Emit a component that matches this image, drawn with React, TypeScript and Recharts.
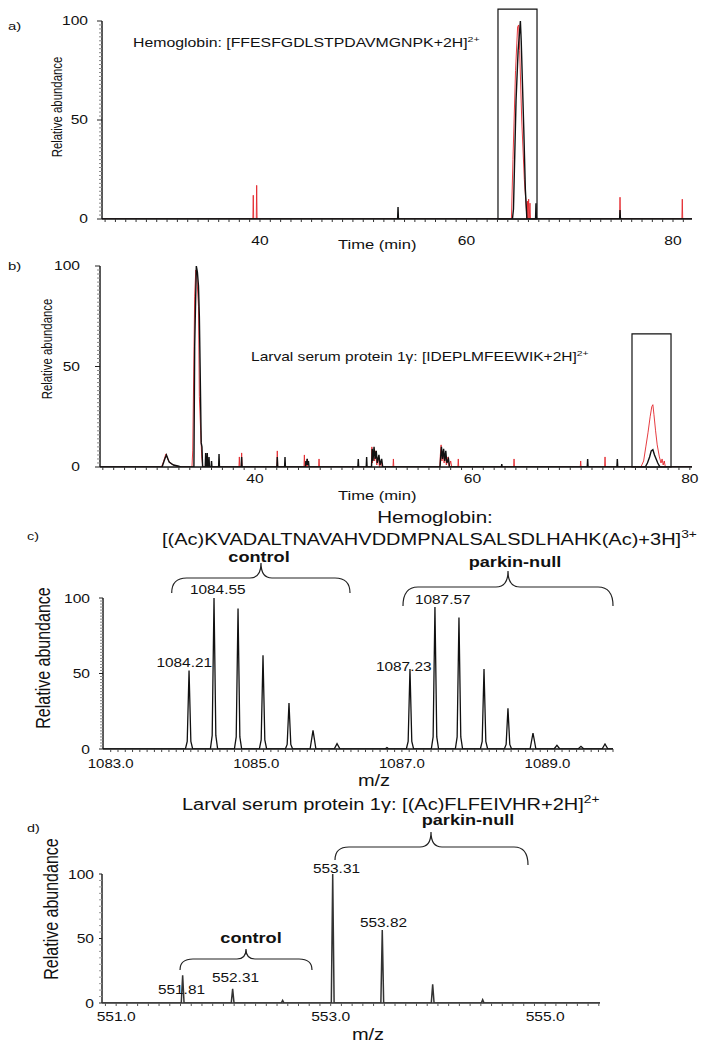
import React from 'react';
import { LineChart, Line, XAxis, YAxis, ReferenceArea } from 'recharts';

const FONT = '"Liberation Sans", Arial, Helvetica, sans-serif';

type Pt = [number, number];

// ---------------- Panel a: Hemoglobin XIC (time, relative abundance) ----------------
const aXDomain: [number, number] = [24.7, 81.84];
const aXLabels = [40, 60, 80];
const aYLabels = [0, 50, 100];
const aBox = { x1: 63.05, x2: 66.83, top: 106 };
const aRed: Pt[] = [
  [24.7, 0], [39.31, 0], [39.35, 12], [39.39, 0], [39.64, 0], [39.68, 17], [39.72, 0],
  [64.35, 0], [64.5, 30], [64.75, 75], [64.95, 97], [65.05, 98], [65.15, 85], [65.35, 50], [65.6, 20],
  [65.8, 5], [65.85, 0], [65.9, 9], [65.95, 0], [66.02, 10], [66.07, 0], [66.15, 8], [66.2, 0],
  [74.83, 0], [74.87, 11], [74.91, 0], [80.86, 0], [80.9, 10], [80.94, 0], [81.84, 0],
];
const aBlack: Pt[] = [
  [24.7, 0], [53.33, 0], [53.37, 6], [53.41, 0],
  [64.45, 0], [64.55, 5], [64.8, 60], [65.0, 85], [65.22, 100], [65.3, 90], [65.4, 72], [65.55, 45],
  [65.7, 15], [65.85, 0], [66.69, 0], [66.73, 8], [66.77, 0], [74.83, 0], [74.87, 4.5], [74.91, 0], [81.84, 0],
];

// ---------------- Panel b: Larval serum protein XIC ----------------
const bXDomain: [number, number] = [25.74, 80.2];
const bXLabels = [40, 60, 80];
const bYLabels = [0, 50, 100];
const bBox = { x1: 74.68, x2: 78.27, top: 66.2 };
const bRed: Pt[] = [
  [25.74, 0], [31.4, 0], [31.6, 3], [31.8, 6.5], [32.0, 3.5], [32.3, 1.5], [32.6, 0.8], [33.0, 0],
  [34.2, 0], [34.27, 8], [34.45, 85], [34.55, 98], [34.65, 95], [34.8, 80], [34.88, 35], [35.0, 18], [35.1, 5], [35.2, 0],
  [38.52, 0], [38.56, 5], [38.6, 0], [38.73, 0], [38.77, 7], [38.81, 0],
  [42.01, 0], [42.05, 8], [42.09, 0],
  [44.5, 0], [44.54, 6], [44.58, 0], [44.65, 0], [44.7, 3], [44.75, 0], [44.8, 4], [44.85, 0],
  [45.85, 0], [45.89, 4], [45.93, 0],
  [50.7, 0], [50.75, 10], [50.8, 2], [50.9, 7], [51.0, 3], [51.1, 8], [51.2, 1], [51.35, 5], [51.45, 0], [51.6, 3], [51.7, 0],
  [52.69, 0], [52.73, 4], [52.77, 0],
  [57.0, 0], [57.05, 6], [57.12, 11], [57.2, 3], [57.3, 8], [57.4, 2], [57.5, 7], [57.6, 1], [57.75, 5], [57.85, 0], [58.0, 3], [58.1, 0],
  [58.66, 0], [58.7, 4], [58.74, 0],
  [63.79, 0], [63.83, 4], [63.87, 0],
  [69.92, 0], [69.96, 3], [70.0, 0],
  [72.16, 0], [72.2, 5], [72.24, 0],
  [75.5, 0], [75.75, 3], [75.95, 10], [76.15, 17], [76.35, 25], [76.5, 30], [76.6, 31], [76.7, 26], [76.85, 18],
  [77.0, 11], [77.2, 5], [77.35, 2], [77.45, 4], [77.55, 1], [77.65, 3], [77.75, 0],
  [80.2, 0],
];
const bBlack: Pt[] = [
  [25.74, 0], [31.45, 0], [31.7, 4], [31.85, 6], [32.1, 2.5], [32.5, 1], [32.9, 0.5], [33.2, 0],
  [34.38, 0], [34.45, 60], [34.6, 100], [34.7, 97], [34.8, 90], [34.88, 75], [34.95, 50], [35.05, 12], [35.12, 10], [35.18, 0],
  [35.42, 0], [35.46, 7], [35.5, 0], [35.57, 0], [35.61, 7], [35.65, 0], [35.73, 0], [35.77, 5], [35.81, 0], [35.96, 0], [36.0, 3], [36.04, 0],
  [36.65, 0], [36.69, 6.5], [36.73, 0],
  [38.73, 0], [38.77, 5], [38.81, 0],
  [42.01, 0], [42.05, 5], [42.09, 0], [42.72, 0], [42.76, 5], [42.8, 0],
  [44.63, 0], [44.68, 3], [44.73, 1], [44.8, 4], [44.87, 1], [44.92, 3], [44.97, 0],
  [49.46, 0], [49.5, 4], [49.54, 0], [50.23, 0], [50.27, 5], [50.31, 0],
  [50.72, 0], [50.78, 9], [50.85, 3], [50.95, 10], [51.05, 4], [51.15, 8], [51.25, 2], [51.4, 6], [51.5, 1], [51.65, 4], [51.75, 0],
  [57.02, 0], [57.08, 5], [57.15, 10], [57.25, 4], [57.35, 9], [57.45, 3], [57.55, 8], [57.65, 2], [57.8, 4], [57.9, 0],
  [62.66, 0], [62.7, 1.5], [62.74, 0],
  [70.56, 0], [70.6, 4], [70.64, 0],
  [73.29, 0], [73.33, 4], [73.37, 0],
  [75.9, 0], [76.1, 2], [76.3, 5], [76.45, 8], [76.6, 8.6], [76.75, 6], [76.9, 4], [77.05, 2], [77.2, 0.5], [77.3, 0],
  [80.2, 0],
];

// ---------------- Panel c: Hemoglobin isotope envelopes (m/z) ----------------
const cXDomain: [number, number] = [1082.894, 1089.9];
const cXLabels = [1083, 1085, 1087, 1089];
const cYLabels = [0, 50, 100];
const cControl: Pt[] = [
  [1082.894, 0],
  [1084.026, 0], [1084.051, 5], [1084.076, 52], [1084.101, 5], [1084.126, 0],
  [1084.369, 0], [1084.394, 9], [1084.419, 100], [1084.444, 9], [1084.469, 0],
  [1084.699, 0], [1084.724, 8], [1084.749, 93], [1084.774, 8], [1084.799, 0],
  [1085.042, 0], [1085.067, 6], [1085.092, 62], [1085.117, 6], [1085.142, 0],
  [1085.399, 0], [1085.424, 3], [1085.449, 30.5], [1085.474, 3], [1085.499, 0],
  [1085.739, 0], [1085.779, 12.3], [1085.819, 0],
  [1086.07, 0], [1086.109, 3.5], [1086.15, 0],
];
const cParkin: Pt[] = [
  [1086.15, 0],
  [1086.77, 0], [1086.795, 1], [1086.82, 0],
  [1087.061, 0], [1087.086, 5], [1087.111, 53], [1087.136, 5], [1087.161, 0],
  [1087.404, 0], [1087.429, 8], [1087.454, 94], [1087.479, 8], [1087.504, 0],
  [1087.734, 0], [1087.759, 8], [1087.784, 87], [1087.809, 8], [1087.834, 0],
  [1088.078, 0], [1088.103, 5], [1088.128, 53], [1088.153, 5], [1088.178, 0],
  [1088.407, 0], [1088.432, 3], [1088.457, 27], [1088.482, 3], [1088.507, 0],
  [1088.761, 0], [1088.801, 10.6], [1088.841, 0],
  [1089.09, 0], [1089.13, 2.4], [1089.17, 0],
  [1089.42, 0], [1089.46, 1.8], [1089.5, 0],
  [1089.75, 0], [1089.79, 3.3], [1089.83, 0],
  [1089.9, 0],
];

// ---------------- Panel d: Larval serum protein isotope envelopes ----------------
const dXDomain: [number, number] = [550.868, 555.511];
const dXLabels = [551, 553, 555];
const dYLabels = [0, 50, 100];
const dSpectrum: Pt[] = [
  [550.868, 0],
  [551.607, 0], [551.62, 21.5], [551.633, 0],
  [552.073, 0], [552.086, 11], [552.099, 0],
  [552.539, 0], [552.552, 2], [552.565, 0],
  [553.006, 0], [553.019, 100], [553.032, 0],
  [553.468, 0], [553.481, 56.5], [553.494, 0],
  [553.938, 0], [553.951, 14.5], [553.964, 0],
  [554.404, 0], [554.417, 2.6], [554.43, 0],
  [555.511, 0],
];

// ---------------- helpers ----------------
const toRows = (pts: Pt[]) => pts.map(([t, v]) => ({ t, v }));
const steps = (start: number, end: number, step: number) => {
  const n = Math.round((end - start) / step);
  const out: number[] = [];
  for (let i = 0; i <= n; i++) out.push(+(start + i * step).toFixed(4));
  return out;
};
const has = (list: number[], v: number) => list.some((l) => Math.abs(l - v) < 1e-6);

type YOpts = { labels: number[]; gap: number; size: number; sx: number; minorLen: number; majorLen: number; minorColor: string; fmt?: (v: number) => string };
const makeYTick = (o: YOpts) => (props: any) => {
  const { x, y, payload } = props;
  const v = payload.value as number;
  const lab = has(o.labels, v);
  const len = lab ? o.majorLen : o.minorLen;
  return (
    <g>
      <line x1={x} x2={x - len} y1={y} y2={y} stroke={lab ? '#222' : o.minorColor} strokeWidth={1} />
      {lab && (
        <text
          transform={`translate(${x - o.gap},${y + o.size * 0.36}) scale(${o.sx},1)`}
          textAnchor="end"
          fontSize={o.size}
          fontFamily={FONT}
          fill="#111"
        >
          {o.fmt ? o.fmt(v) : String(v)}
        </text>
      )}
    </g>
  );
};

type XOpts = { labels: number[]; base: number; size: number; sx: number; len: number; color: string; fmt?: (v: number) => string };
const makeXTick = (o: XOpts) => (props: any) => {
  const { x, y, payload } = props;
  const v = payload.value as number;
  const lab = has(o.labels, v);
  return (
    <g>
      <line x1={x} x2={x} y1={y} y2={y + o.len} stroke={o.color} strokeWidth={1} />
      {lab && (
        <text
          transform={`translate(${x},${y + o.base}) scale(${o.sx},1)`}
          textAnchor="middle"
          fontSize={o.size}
          fontFamily={FONT}
          fill="#111"
        >
          {o.fmt ? o.fmt(v) : String(v)}
        </text>
      )}
    </g>
  );
};

const T = ({ x, y, size, sx = 1.25, anchor = 'start', bold = false, children }: any) => (
  <text
    transform={`translate(${x},${y}) scale(${sx},1)`}
    fontSize={size}
    fontFamily={FONT}
    fontWeight={bold ? 'bold' : 'normal'}
    textAnchor={anchor}
    fill="#111"
  >
    {children}
  </text>
);

const VT = ({ x, y, size, sx = 1.25, children }: any) => (
  <text
    transform={`translate(${x},${y}) scale(${sx},1) rotate(-90)`}
    fontSize={size}
    fontFamily={FONT}
    textAnchor="middle"
    fill="#111"
  >
    {children}
  </text>
);

const brace = (x1: number, x2: number, xm: number, yEndL: number, yEndR: number, yTop: number, yTip: number, r: number, rm: number) =>
  `M ${x1} ${yEndL} Q ${x1} ${yTop} ${x1 + r} ${yTop} L ${xm - rm} ${yTop} Q ${xm} ${yTop} ${xm} ${yTip} ` +
  `Q ${xm} ${yTop} ${xm + rm} ${yTop} L ${x2 - r} ${yTop} Q ${x2} ${yTop} ${x2} ${yEndR}`;

const axisLine = { stroke: '#111', strokeWidth: 1.4 };
const RED = '#e3262b';

const yTicks2 = steps(0, 100, 2);
const yTicks5 = steps(0, 100, 5);

export default function App() {
  return (
    <div style={{ position: 'absolute', left: 0, top: 0, width: 716, height: 1048, background: '#fff' }}>
      {/* Panel a */}
      <div style={{ position: 'absolute', left: 0, top: 0 }}>
        <LineChart width={716} height={260} margin={{ top: 21, right: 24, bottom: 11, left: 62 }}>
          <XAxis
            dataKey="t" type="number" domain={aXDomain} allowDataOverflow
            ticks={steps(25, 81, 1)} interval={0} tickSize={0} tickMargin={0} tickLine={false}
            tick={makeXTick({ labels: aXLabels, base: 25.5, size: 12, sx: 1.3, len: 3, color: '#333' })}
            height={30} axisLine={axisLine}
          />
          <YAxis
            type="number" domain={[0, 100]} allowDataOverflow
            ticks={yTicks2} interval={0} tickSize={0} tickMargin={0} tickLine={false}
            tick={makeYTick({ labels: aYLabels, gap: 14, size: 12, sx: 1.3, minorLen: 3, majorLen: 5, minorColor: '#888' })}
            width={40} axisLine={axisLine}
          />
          <ReferenceArea x1={aBox.x1} x2={aBox.x2} y1={0} y2={aBox.top} fill="none" fillOpacity={0} stroke="#111" strokeWidth={1.2} ifOverflow="visible" />
          <Line data={toRows(aRed)} dataKey="v" type="linear" stroke={RED} strokeWidth={0.9} dot={false} isAnimationActive={false} />
          <Line data={toRows(aBlack)} dataKey="v" type="linear" stroke="#111" strokeWidth={1.4} dot={false} isAnimationActive={false} />
        </LineChart>
      </div>

      {/* Panel b */}
      <div style={{ position: 'absolute', left: 0, top: 250 }}>
        <LineChart width={716} height={260} margin={{ top: 16, right: 24, bottom: 13, left: 60 }}>
          <XAxis
            dataKey="t" type="number" domain={bXDomain} allowDataOverflow
            ticks={steps(26, 80, 1)} interval={0} tickSize={0} tickMargin={0} tickLine={false}
            tick={makeXTick({ labels: bXLabels, base: 16, size: 12, sx: 1.3, len: 3, color: '#333' })}
            height={30} axisLine={axisLine}
          />
          <YAxis
            type="number" domain={[0, 100]} allowDataOverflow
            ticks={yTicks2} interval={0} tickSize={0} tickMargin={0} tickLine={false}
            tick={makeYTick({ labels: bYLabels, gap: 20, size: 12, sx: 1.3, minorLen: 3, majorLen: 5, minorColor: '#888' })}
            width={40} axisLine={axisLine}
          />
          <ReferenceArea x1={bBox.x1} x2={bBox.x2} y1={0} y2={bBox.top} fill="none" fillOpacity={0} stroke="#111" strokeWidth={1.2} ifOverflow="visible" />
          <Line data={toRows(bRed)} dataKey="v" type="linear" stroke={RED} strokeWidth={0.9} dot={false} isAnimationActive={false} />
          <Line data={toRows(bBlack)} dataKey="v" type="linear" stroke="#111" strokeWidth={1.4} dot={false} isAnimationActive={false} />
        </LineChart>
      </div>

      {/* Panel c */}
      <div style={{ position: 'absolute', left: 0, top: 480 }}>
        <LineChart width={716} height={300} margin={{ top: 118, right: 103, bottom: 6, left: 63 }}>
          <XAxis
            dataKey="t" type="number" domain={cXDomain} allowDataOverflow
            ticks={steps(1083, 1089.9, 0.1)} interval={0} tickSize={0} tickMargin={0} tickLine={false}
            tick={makeXTick({ labels: cXLabels, base: 19, size: 12, sx: 1.25, len: 3, color: '#444', fmt: (v) => v.toFixed(1) })}
            height={25} axisLine={axisLine}
          />
          <YAxis
            type="number" domain={[0, 100]} allowDataOverflow
            ticks={yTicks2} interval={0} tickSize={0} tickMargin={0} tickLine={false}
            tick={makeYTick({ labels: cYLabels, gap: 13, size: 12.5, sx: 1.25, minorLen: 3, majorLen: 4, minorColor: '#888' })}
            width={40} axisLine={axisLine}
          />
          <Line data={toRows(cControl)} dataKey="v" type="linear" stroke="#111" strokeWidth={1.3} dot={false} isAnimationActive={false} />
          <Line data={toRows(cParkin)} dataKey="v" type="linear" stroke="#111" strokeWidth={1.3} dot={false} isAnimationActive={false} />
        </LineChart>
      </div>

      {/* Panel d */}
      <div style={{ position: 'absolute', left: 0, top: 760 }}>
        <LineChart width={716} height={288} margin={{ top: 114, right: 116, bottom: 15, left: 62 }}>
          <XAxis
            dataKey="t" type="number" domain={dXDomain} allowDataOverflow
            ticks={steps(550.9, 555.5, 0.1)} interval={0} tickSize={0} tickMargin={0} tickLine={false}
            tick={makeXTick({ labels: dXLabels, base: 18, size: 12.5, sx: 1.25, len: 3, color: '#555', fmt: (v) => v.toFixed(1) })}
            height={30} axisLine={{ stroke: '#333', strokeWidth: 1.4 }}
          />
          <YAxis
            type="number" domain={[0, 100]} allowDataOverflow
            ticks={yTicks5} interval={0} tickSize={0} tickMargin={0} tickLine={false}
            tick={makeYTick({ labels: dYLabels, gap: 8, size: 12.5, sx: 1.25, minorLen: 3, majorLen: 3, minorColor: '#999' })}
            width={40} axisLine={{ stroke: '#333', strokeWidth: 1.6 }}
          />
          <Line data={toRows(dSpectrum)} dataKey="v" type="linear" stroke="#333" strokeWidth={1.5} dot={false} isAnimationActive={false} />
        </LineChart>
      </div>

      {/* Annotations overlay */}
      <svg width={716} height={1048} style={{ position: 'absolute', left: 0, top: 0, pointerEvents: 'none' }}>
        {/* a */}
        <T x={8} y={30} size={11.5} sx={1.3}>a)</T>
        <T x={133} y={46.5} size={12} sx={1.32}>
          Hemoglobin: [FFESFGDLSTPDAVMGNPK+2H]<tspan dy={-5} fontSize={8}>2+</tspan>
        </T>
        <VT x={62} y={107} size={11.4} sx={1.25}>Relative abundance</VT>
        <T x={338} y={248.5} size={12} sx={1.38}>Time (min)</T>

        {/* b */}
        <T x={8} y={270} size={11.5} sx={1.3}>b)</T>
        <T x={251} y={360.7} size={12} sx={1.295}>
          Larval serum protein 1γ: [IDEPLMFEEWIK+2H]<tspan dy={-5} fontSize={8}>2+</tspan>
        </T>
        <VT x={52} y={349} size={11.4} sx={1.25}>Relative abundance</VT>
        <T x={338} y={500} size={12} sx={1.38}>Time (min)</T>

        {/* c */}
        <T x={27} y={540} size={11.5}>c)</T>
        <T x={435} y={523} size={16.5} anchor="middle">Hemoglobin:</T>
        <T x={162} y={545} size={16}>
          [(Ac)KVADALTNAVAHVDDMPNALSALSDLHAHK(Ac)+3H]<tspan dy={-7} fontSize={11}>3+</tspan>
        </T>
        <T x={259} y={561.5} size={14.5} anchor="middle" bold>control</T>
        <T x={515} y={567} size={14.5} anchor="middle" bold>parkin-null</T>
        <path d={brace(171.7, 350, 261, 593, 593, 578, 563, 15, 11)} fill="none" stroke="#222" strokeWidth={1.2} />
        <path d={brace(403, 613, 508, 606, 606, 587, 571, 15, 12)} fill="none" stroke="#222" strokeWidth={1.2} />
        <T x={212} y={667} size={12.3} anchor="end">1084.21</T>
        <T x={190} y={594} size={12.3}>1084.55</T>
        <T x={376} y={670.5} size={12.3}>1087.23</T>
        <T x={415} y={604} size={12.3}>1087.57</T>
        <VT x={50} y={658} size={16} sx={1.25}>Relative abundance</VT>
        <T x={374} y={786} size={16} anchor="middle">m/z</T>

        {/* d */}
        <T x={27} y={832} size={11.5}>d)</T>
        <T x={182} y={810} size={16}>
          Larval serum protein 1γ: [(Ac)FLFEIVHR+2H]<tspan dy={-7} fontSize={11}>2+</tspan>
        </T>
        <T x={251} y={942.5} size={14.5} anchor="middle" bold>control</T>
        <T x={468} y={825} size={14.5} anchor="middle" bold>parkin-null</T>
        <path d={brace(180, 312, 246, 970, 970, 959, 949, 13, 9)} fill="none" stroke="#222" strokeWidth={1.2} />
        <path d={brace(335, 528, 431, 860, 865, 847, 832, 14, 11)} fill="none" stroke="#222" strokeWidth={1.2} />
        <T x={158} y={994} size={12.3}>551.81</T>
        <T x={212} y={981.5} size={12.3}>552.31</T>
        <T x={313} y={872.5} size={12.3}>553.31</T>
        <T x={360} y={926.5} size={12.3}>553.82</T>
        <VT x={58} y={909} size={16} sx={1.25}>Relative abundance</VT>
        <T x={368} y={1040} size={16} anchor="middle">m/z</T>
      </svg>
    </div>
  );
}
